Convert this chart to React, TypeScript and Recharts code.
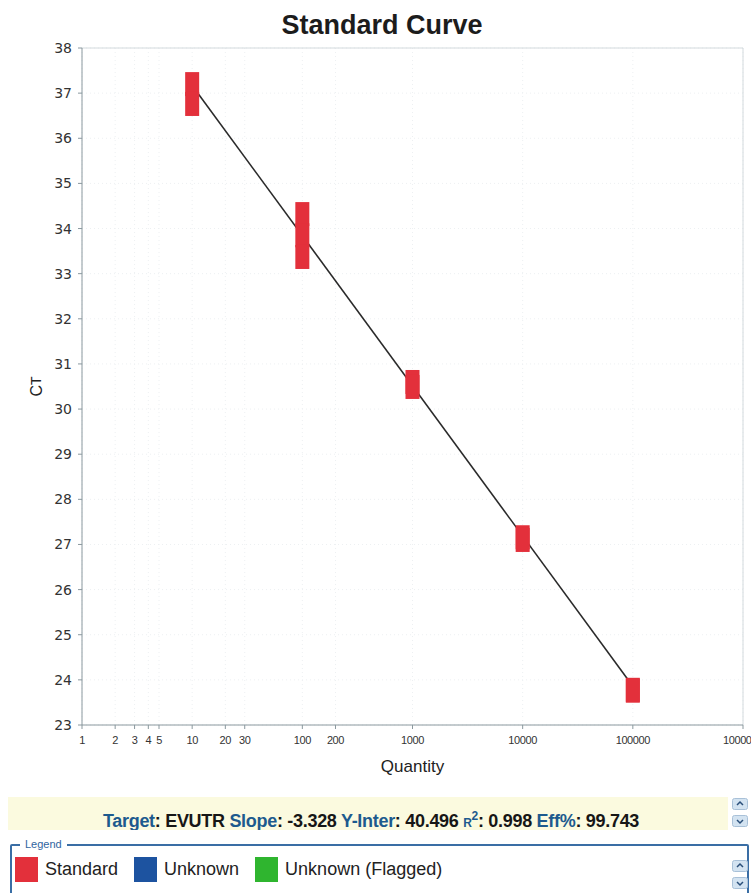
import React from "react";
import {
  CartesianGrid,
  ReferenceLine,
  Scatter,
  ScatterChart,
  XAxis,
  YAxis,
} from "recharts";

// standards (replicates at each dilution)
const stdQuantity = [10, 10, 100, 100, 100, 1000, 1000, 10000, 10000, 100000, 100000];
const stdCt = [37.2, 36.76, 34.32, 33.85, 33.37, 30.6, 30.49, 27.16, 27.1, 23.78, 23.76];

// fitted line ends
const fitQuantity = [10, 100000];
const fitCt = [37.17, 23.86];

const xTicks = [1, 2, 3, 4, 5, 10, 20, 30, 100, 200, 1000, 10000, 100000, 1000000];
const yTicks = [23, 24, 25, 26, 27, 28, 29, 30, 31, 32, 33, 34, 35, 36, 37, 38];

const legendNames = ["Standard", "Unknown", "Unknown (Flagged)"];
const legendColors = ["#e3303b", "#1d53a0", "#2fb52f"];

const stdData = stdQuantity.map((q, i) => ({ q, ct: stdCt[i] }));
const fitData = fitQuantity.map((q, i) => ({ q, ct: fitCt[i] }));

const RED = "#e3303b";
const AXIS = "#8a989e";
const LABEL_BLUE = "#1d5a8e";

const RectMarker = (p: any) => (
  <rect x={p.cx - 7} y={p.cy - 12} width={14} height={24} fill={RED} />
);

const NoDot = () => <g />;

const CtLabel = (props: any) => {
  const vb = props.viewBox || { x: 0, y: 0, width: 0, height: 0 };
  const cx = 36;
  const cy = vb.y + vb.height / 2;
  return (
    <text
      x={cx}
      y={cy}
      transform={`rotate(-90, ${cx}, ${cy})`}
      textAnchor="middle"
      dominantBaseline="central"
      fontSize={16}
      fill="#222"
      fontFamily="Liberation Sans, Arial, sans-serif"
    >
      C<tspan fontSize={14}>T</tspan>
    </text>
  );
};

const ScrollBtn = ({ up, top }: { up: boolean; top: number }) => (
  <svg
    width={16}
    height={12}
    style={{ position: "absolute", left: 732, top }}
  >
    <rect x={0.5} y={0.5} width={15} height={11} rx={2} fill="#d3e3f1" stroke="#a9c1d8" />
    <path
      d={up ? "M5 7 L8 4 L11 7" : "M5 5 L8 8 L11 5"}
      fill="none"
      stroke="#2a4f7a"
      strokeWidth={1.5}
    />
  </svg>
);

const lab = { color: LABEL_BLUE };
const val = { color: "#161616" };

export default function App() {
  return (
    <div
      style={{
        position: "absolute",
        left: 0,
        top: 0,
        width: 751,
        height: 893,
        overflow: "hidden",
        background: "#fff",
        fontFamily: "Liberation Sans, Arial, sans-serif",
      }}
    >
      <div
        style={{
          position: "absolute",
          left: 0,
          top: 9,
          width: 764,
          textAlign: "center",
          fontSize: 27,
          fontWeight: "bold",
          lineHeight: "32px",
          color: "#1c1c1c",
        }}
      >
        Standard Curve
      </div>

      <div style={{ position: "absolute", left: 0, top: 0 }}>
        <ScatterChart
          width={751}
          height={780}
          margin={{ top: 48, right: 8, left: 0, bottom: 0 }}
        >
          <CartesianGrid stroke="#edf0f2" strokeDasharray="1 3" />
          <XAxis
            type="number"
            dataKey="q"
            scale="log"
            domain={[1, 1000000]}
            allowDataOverflow
            ticks={xTicks}
            interval={0}
            height={55}
            stroke={AXIS}
            tickSize={4}
            tickMargin={7}
            tick={{
              fontSize: 11,
              fill: "#333",
              letterSpacing: -0.4,
              fontFamily: "Liberation Sans Narrow, Arial Narrow, sans-serif",
            }}
            tickFormatter={(v: number) => String(v)}
            label={{
              value: "Quantity",
              position: "insideBottom",
              offset: 8,
              fontSize: 17,
              fill: "#222",
            }}
          />
          <YAxis
            type="number"
            dataKey="ct"
            domain={[23, 38]}
            ticks={yTicks}
            interval={0}
            width={82}
            stroke={AXIS}
            tickSize={4}
            tickMargin={6}
            tick={{
              fontSize: 14,
              fill: "#333",
              fontFamily: "DejaVu Sans, sans-serif",
            }}
            label={<CtLabel />}
          />
          <ReferenceLine y={38} stroke="#d3dadd" />
          <ReferenceLine x={1000000} stroke="#d3dadd" />
          <Scatter
            data={fitData}
            shape={NoDot}
            line={{ stroke: "#2a2a2a", strokeWidth: 1.6 }}
            isAnimationActive={false}
          />
          <Scatter data={stdData} shape={RectMarker} isAnimationActive={false} />
        </ScatterChart>
      </div>

      {/* fit statistics bar */}
      <div
        style={{
          position: "absolute",
          left: 8,
          top: 797,
          width: 720,
          height: 33,
          background: "#fbfadf",
          overflow: "hidden",
        }}
      >
        <div
          style={{
            position: "absolute",
            left: 0,
            top: 9,
            width: 726,
            textAlign: "center",
            fontFamily: "Liberation Sans Narrow, Arial Narrow, sans-serif",
            fontWeight: "bold",
            fontSize: 18,
            letterSpacing: -0.3,
            lineHeight: "20px",
            whiteSpace: "nowrap",
          }}
        >
          <span style={lab}>Target</span>
          <span style={val}>: EVUTR </span>
          <span style={lab}>Slope</span>
          <span style={val}>: -3.328 </span>
          <span style={lab}>Y-Inter</span>
          <span style={val}>: 40.496 </span>
          <span style={{ ...lab, fontSize: 12 }}>R</span>
          <span style={{ ...lab, fontSize: 12, verticalAlign: 7 }}>2</span>
          <span style={val}>: 0.998 </span>
          <span style={lab}>Eff%</span>
          <span style={val}>: 99.743</span>
        </div>
      </div>
      <ScrollBtn up top={798} />
      <ScrollBtn up={false} top={815} />

      {/* legend box */}
      <div
        style={{
          position: "absolute",
          left: 10,
          top: 844,
          width: 735,
          height: 70,
          border: "2px solid #3a6ea5",
          borderRadius: 2,
        }}
      >
        <div
          style={{
            position: "absolute",
            left: 8,
            top: -8,
            padding: "0 5px",
            background: "#fff",
            fontSize: 11,
            lineHeight: "13px",
            color: "#2f64a0",
          }}
        >
          Legend
        </div>
        <div
          style={{
            position: "absolute",
            left: 3,
            top: 11,
            display: "flex",
            alignItems: "center",
          }}
        >
          {legendNames.map((name, i) => (
            <div
              key={name}
              style={{ display: "flex", alignItems: "center", marginRight: 16 }}
            >
              <div
                style={{
                  width: 23,
                  height: 25,
                  background: legendColors[i],
                  marginRight: 7,
                }}
              />
              <span style={{ fontSize: 18, color: "#222" }}>{name}</span>
            </div>
          ))}
        </div>
      </div>
      <ScrollBtn up top={860} />
      <ScrollBtn up={false} top={877} />
    </div>
  );
}
